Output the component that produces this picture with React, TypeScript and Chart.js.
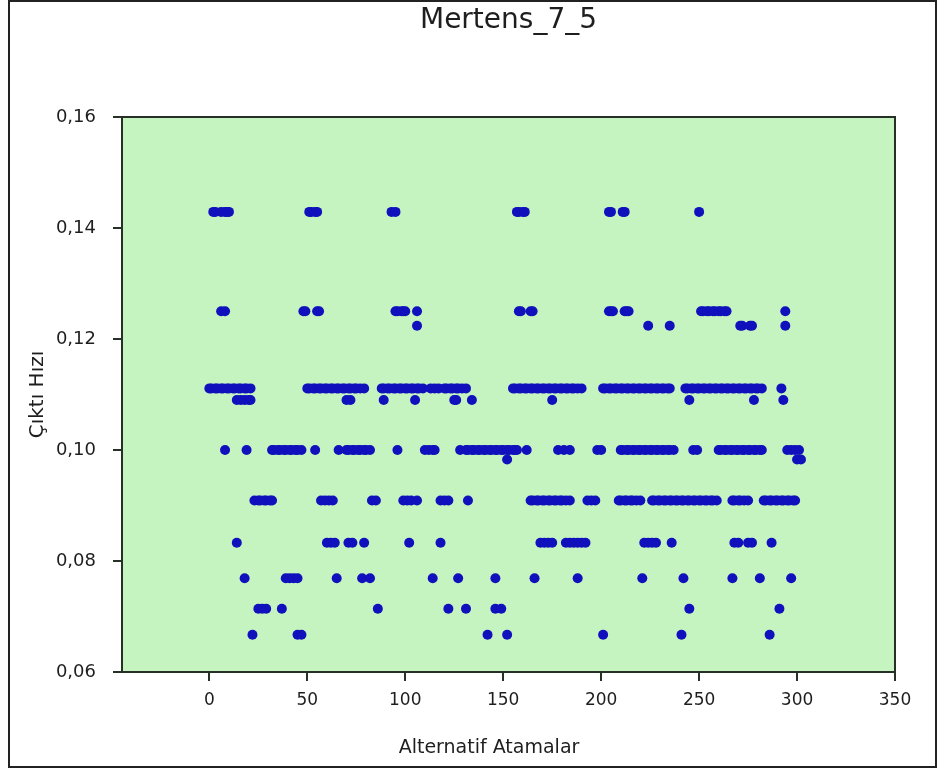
import React, { useEffect, useRef } from 'react';
import { Chart, registerables } from 'chart.js';

Chart.register(...registerables);

const chartTitle = 'Mertens_7_5';
const xAxisTitle = 'Alternatif Atamalar';
const yAxisTitle = 'Çıktı Hızı';
const xTicks = [0, 50, 100, 150, 200, 250, 300, 350];
const yTicks = [0.06, 0.08, 0.1, 0.12, 0.14, 0.16];

// x positions of the points found on each output-rate level
const rate0_1429 = [2, 3, 6, 8, 9, 10, 51, 52, 54, 55, 93, 95, 157, 158, 160, 161, 204, 205, 211, 212, 250];
const rate0_1250 = [6, 8, 48, 49, 55, 56, 95, 96, 98, 99, 100, 106, 158, 159, 164, 165, 204, 205, 206, 212, 213, 214, 251, 252, 254, 255, 257, 258, 260, 261, 263, 264, 294];
const rate0_1224 = [106, 224, 235, 271, 272, 276, 277, 294];
const rate0_1111 = [
  0, 1, 3, 4, 6, 7, 9, 10, 12, 13, 15, 16, 18, 19, 21,
  50, 51, 53, 54, 56, 57, 59, 60, 62, 63, 65, 66, 68, 69, 71, 72, 74, 75, 77, 79,
  88, 89, 91, 92, 94, 95, 97, 98, 100, 101, 103, 104, 106, 107, 109,
  113, 115, 117, 120, 121, 123, 124, 126, 127, 129, 131,
  155, 156, 158, 159, 161, 162, 164, 165, 167, 168, 170, 171, 173, 174, 176, 177, 179, 180, 182, 183, 185, 186, 188, 190,
  201, 202, 204, 205, 207, 208, 210, 211, 213, 214, 216, 217, 219, 220, 222, 223, 225, 226, 228, 229, 231, 232, 234, 235,
  243, 244, 246, 247, 249, 250, 252, 253, 255, 256, 258, 259, 261, 262, 264, 265, 267, 268, 270, 271, 273, 274, 276, 277, 279, 280, 282,
  292,
];
const rate0_1090 = [14, 16, 18, 20, 21, 70, 72, 89, 105, 125, 126, 134, 175, 245, 278, 293];
const rate0_1000 = [
  8, 19, 32, 33, 35, 36, 38, 39, 41, 42, 44, 45, 47, 54,
  66, 70, 71, 73, 74, 76, 77, 79, 80, 82, 96,
  110, 112, 114, 115, 128,
  131, 132, 134, 135, 137, 138, 140, 141, 143, 144, 146, 147, 149, 150, 152, 153, 155, 156, 157,
  162, 178, 181, 184, 198, 200,
  210, 211, 213, 214, 216, 217, 219, 220, 222, 223, 225, 226, 228, 229, 231, 232, 234, 235, 237,
  247, 249,
  260, 261, 263, 264, 266, 267, 269, 270, 272, 273, 275, 276, 278, 279, 281, 282,
  295, 297, 299, 301,
];
const rate0_0983 = [152, 300, 302];
const rate0_0909 = [
  23, 25, 26, 28, 29, 31, 32, 57, 59, 61, 63, 83, 85,
  99, 101, 103, 106, 118, 120, 122, 132,
  164, 165, 167, 168, 170, 171, 173, 174, 176, 177, 179, 180, 182, 184,
  193, 195, 197,
  209, 210, 212, 213, 215, 216, 218, 220,
  226, 227, 229, 230, 232, 233, 235, 236, 238, 239, 241, 242, 244, 245, 247, 248, 250, 251, 253, 254, 256, 257, 259,
  267, 268, 270, 271, 273, 275,
  283, 284, 286, 287, 289, 290, 292, 293, 295, 296, 298, 299,
];
const rate0_0833 = [14, 60, 62, 64, 71, 73, 79, 102, 118, 169, 171, 173, 175, 182, 184, 186, 188, 190, 192, 222, 224, 226, 228, 236, 268, 270, 275, 277, 287];
const rate0_0769 = [18, 39, 41, 43, 45, 65, 78, 82, 114, 127, 146, 166, 188, 221, 242, 267, 281, 297];
const rate0_0714 = [25, 27, 29, 37, 86, 122, 131, 146, 149, 245, 291];
const rate0_0667 = [22, 45, 47, 142, 152, 201, 241, 286];

const levelValues = [0.1429, 0.125, 0.1224, 0.1111, 0.109, 0.1, 0.0983, 0.0909, 0.0833, 0.0769, 0.0714, 0.0667];
const levelXs = [rate0_1429, rate0_1250, rate0_1224, rate0_1111, rate0_1090, rate0_1000, rate0_0983, rate0_0909, rate0_0833, rate0_0769, rate0_0714, rate0_0667];

const FONT = "'DejaVu Sans', 'Liberation Sans', Arial, sans-serif";
const TEXT = '#1e1e1e';
const LINE = '#263026';
const PLOT_BG = '#c6f4c1';
const DOT = '#1010bc';

export default function App() {
  const ref = useRef<HTMLCanvasElement>(null);

  useEffect(() => {
    if (!ref.current) return;
    const points: { x: number; y: number }[] = [];
    levelValues.forEach((v, i) => {
      levelXs[i].forEach((x) => points.push({ x, y: v }));
    });

    const decor = {
      id: 'decor',
      beforeDraw(chart: any) {
        const { ctx, chartArea } = chart;
        ctx.save();
        ctx.fillStyle = '#ffffff';
        ctx.fillRect(0, 0, chart.width, chart.height);
        ctx.fillStyle = PLOT_BG;
        ctx.fillRect(chartArea.left, chartArea.top, chartArea.right - chartArea.left, chartArea.bottom - chartArea.top);
        ctx.restore();
      },
      afterDraw(chart: any) {
        const { ctx, chartArea } = chart;
        ctx.save();
        ctx.strokeStyle = LINE;
        ctx.lineWidth = 2;
        ctx.strokeRect(chartArea.left, chartArea.top, chartArea.right - chartArea.left, chartArea.bottom - chartArea.top);
        ctx.strokeStyle = '#222222';
        ctx.lineWidth = 2;
        ctx.strokeRect(9, 1, 927, 766);
        ctx.fillStyle = TEXT;
        ctx.textAlign = 'center';
        ctx.textBaseline = 'middle';
        ctx.font = `28px ${FONT}`;
        ctx.fillText(chartTitle, (chartArea.left + chartArea.right) / 2, 21);
        ctx.font = `19px ${FONT}`;
        ctx.fillText(xAxisTitle, 489, 748);
        ctx.restore();
      },
    };

    const chart = new Chart(ref.current, {
      type: 'scatter',
      data: {
        datasets: [
          {
            data: points,
            backgroundColor: DOT,
            borderColor: DOT,
            borderWidth: 0,
            pointRadius: 5,
            pointHoverRadius: 5,
          },
        ],
      },
      options: {
        responsive: false,
        animation: false,
        devicePixelRatio: 1,
        layout: { padding: { left: 10, right: 43, top: 117, bottom: 4 } },
        plugins: {
          legend: { display: false },
          tooltip: { enabled: false },
          title: { display: false },
        },
        scales: {
          x: {
            type: 'linear',
            min: -44.6,
            max: 350,
            afterBuildTicks: (s: any) => {
              s.ticks = xTicks.map((value) => ({ value }));
            },
            afterFit: (s: any) => {
              s.height = 95;
            },
            ticks: {
              color: TEXT,
              font: { family: FONT, size: 17 },
              padding: 9,
              maxRotation: 0,
              callback: (v: any) => String(v),
            },
            grid: { drawOnChartArea: false, drawTicks: true, tickLength: 9, color: LINE, lineWidth: 2 },
            border: { display: true, color: LINE, width: 2 },
            title: { display: false, text: xAxisTitle },
          },
          y: {
            type: 'linear',
            min: 0.06,
            max: 0.16,
            afterBuildTicks: (s: any) => {
              s.ticks = yTicks.map((value) => ({ value }));
            },
            afterFit: (s: any) => {
              s.width = 112;
            },
            ticks: {
              color: TEXT,
              font: { family: FONT, size: 18 },
              padding: 17,
              callback: (v: any) => Number(v).toFixed(2).replace('.', ','),
            },
            grid: { drawOnChartArea: false, drawTicks: true, tickLength: 9, color: LINE, lineWidth: 2 },
            border: { display: true, color: LINE, width: 2 },
            title: {
              display: true,
              text: yAxisTitle,
              color: TEXT,
              font: { family: FONT, size: 20 },
              padding: { top: 16, bottom: 0 },
            },
          },
        },
      },
      plugins: [decor],
    });
    return () => chart.destroy();
  }, []);

  return (
    <div style={{ position: 'absolute', left: 0, top: 0, width: 938, height: 771 }}>
      <canvas ref={ref} width={938} height={771} style={{ display: 'block' }} />
    </div>
  );
}
